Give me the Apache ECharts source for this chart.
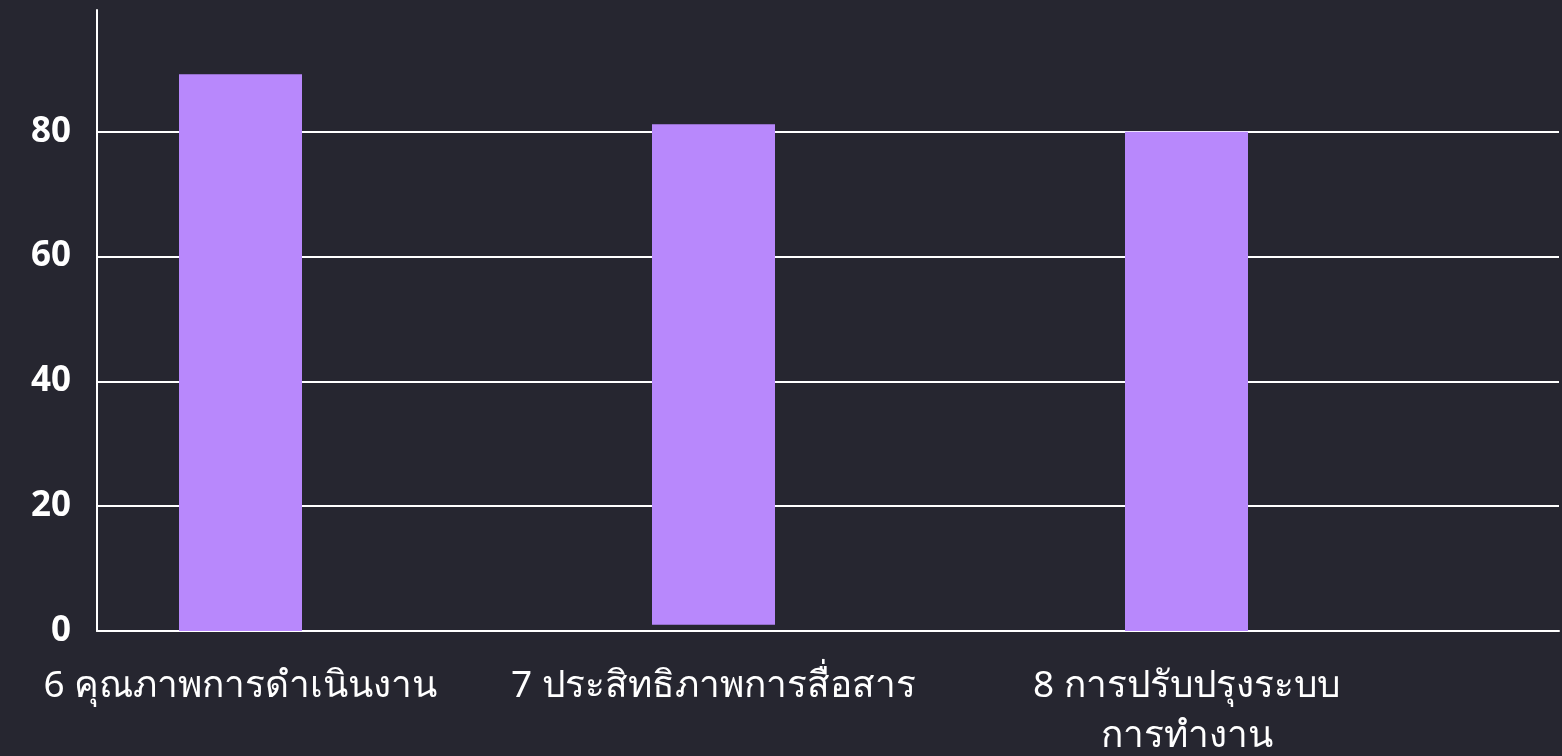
<!DOCTYPE html>
<html>
<head>
<meta charset="utf-8">
<script src="https://cdn.jsdelivr.net/npm/echarts@6/dist/echarts.min.js"></script>
<style>
  html, body { margin: 0; padding: 0; background: #262630; }
  #chart { width: 1562px; height: 756px; }
</style>
</head>
<body>
<div id="chart"></div>
<script>
const categories = ['6 คุณภาพการดำเนินงาน', '7 ประสิทธิภาพการสื่อสาร', '8 การปรับปรุงระบบ\nการทำงาน']
const baseValues = [0, 1, 0]
const scores = [89.2, 80.2, 80]

const myChart = echarts.init(document.getElementById('chart'))

myChart.setOption({
  backgroundColor: '#262630',
  textStyle: { fontFamily: 'Noto Sans, sans-serif' },
  grid: [
    // grid with y axis + split lines
    { left: 97, right: 3, top: 10, bottom: 125, outerBoundsMode: 'none' },
    // grid for the bars
    { left: 4, width: 1419, top: 10, bottom: 125, outerBoundsMode: 'none' }
  ],
  xAxis: [
    {
      gridIndex: 0,
      type: 'category',
      data: categories,
      axisLine: { show: true, lineStyle: { color: '#ffffff', width: 2 } },
      axisTick: { show: false },
      axisLabel: { show: false }
    },
    {
      gridIndex: 1,
      type: 'category',
      data: categories,
      axisLine: { show: false },
      axisTick: { show: false },
      axisLabel: {
        color: '#ffffff',
        fontSize: 37,
        margin: 30,
        lineHeight: 50,
        interval: 0
      }
    }
  ],
  yAxis: [
    {
      gridIndex: 0,
      type: 'value',
      min: 0,
      max: 99.5,
      interval: 20,
      axisLine: { show: true, lineStyle: { color: '#ffffff', width: 2 } },
      axisTick: { show: false },
      axisLabel: {
        color: '#ffffff',
        fontSize: 35,
        fontWeight: 'bold',
        margin: 26,
        formatter: v => (v % 20 === 0 ? String(v) : '')
      },
      splitLine: { show: true, showMaxLine: false, lineStyle: { color: '#ffffff', width: 2 } }
    },
    {
      gridIndex: 1,
      type: 'value',
      min: 0,
      max: 99.5,
      show: false,
      splitLine: { show: false }
    }
  ],
  series: [
    {
      type: 'bar',
      xAxisIndex: 1,
      yAxisIndex: 1,
      stack: 'a',
      barWidth: 123,
      itemStyle: { color: 'transparent' },
      data: baseValues
    },
    {
      type: 'bar',
      xAxisIndex: 1,
      yAxisIndex: 1,
      stack: 'a',
      barWidth: 123,
      itemStyle: { color: '#b888fc' },
      data: scores
    }
  ]
})
</script>
</body>
</html>
